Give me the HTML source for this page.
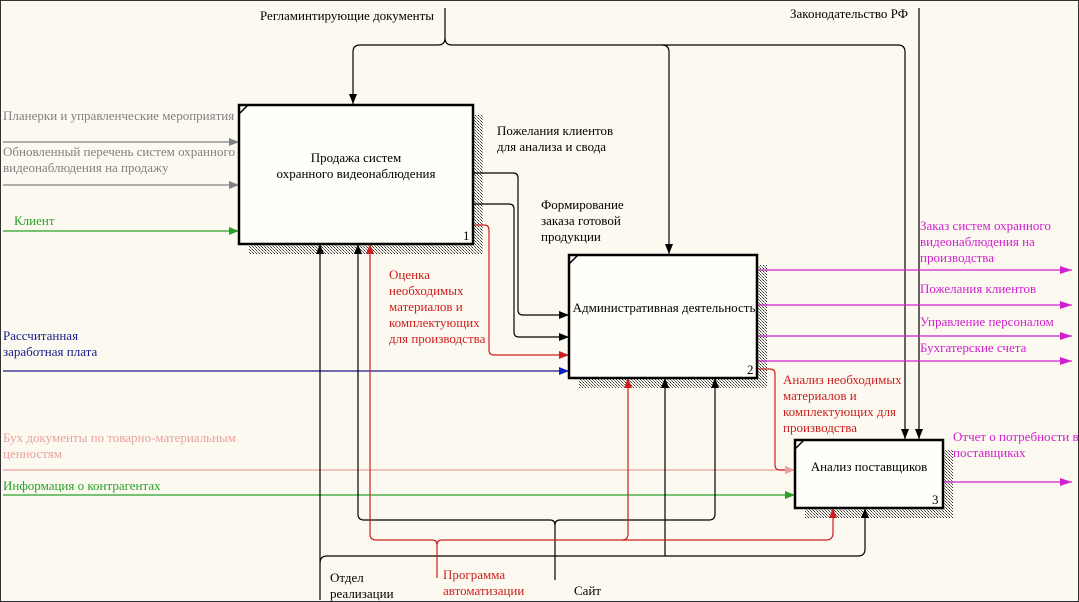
<!DOCTYPE html>
<html><head><meta charset="utf-8"><style>
html,body{margin:0;padding:0;background:#fcfaf0;}
svg{display:block;font-family:"Liberation Serif","DejaVu Serif",serif;font-size:13px;}
</style></head><body>
<svg width="1079" height="602" viewBox="0 0 1079 602" xmlns="http://www.w3.org/2000/svg">
<defs>
<pattern id="h" width="3" height="3" patternUnits="userSpaceOnUse">
<rect width="3" height="3" fill="#fcfaf0"/><rect width="1" height="1" fill="#555"/><rect x="2" y="2" width="1" height="1" fill="#888"/><rect x="1" y="1" width="1" height="1" fill="#333"/>
</pattern>
<marker id="ak" markerWidth="10" markerHeight="8" refX="10" refY="4" orient="auto" markerUnits="userSpaceOnUse"><path d="M0,0 L10,4 L0,8z" fill="#000"/></marker>
<marker id="ag" markerWidth="10" markerHeight="8" refX="10" refY="4" orient="auto" markerUnits="userSpaceOnUse"><path d="M0,0 L10,4 L0,8z" fill="#808080"/></marker>
<marker id="agr" markerWidth="10" markerHeight="8" refX="10" refY="4" orient="auto" markerUnits="userSpaceOnUse"><path d="M0,0 L10,4 L0,8z" fill="#2aa02a"/></marker>
<marker id="ab" markerWidth="10" markerHeight="8" refX="10" refY="4" orient="auto" markerUnits="userSpaceOnUse"><path d="M0,0 L10,4 L0,8z" fill="#0a1fbf"/></marker>
<marker id="ar" markerWidth="10" markerHeight="8" refX="10" refY="4" orient="auto" markerUnits="userSpaceOnUse"><path d="M0,0 L10,4 L0,8z" fill="#cc2020"/></marker>
<marker id="ap" markerWidth="10" markerHeight="8" refX="10" refY="4" orient="auto" markerUnits="userSpaceOnUse"><path d="M0,0 L10,4 L0,8z" fill="#e8a0a0"/></marker>
<marker id="am" markerWidth="12" markerHeight="8" refX="12" refY="4" orient="auto" markerUnits="userSpaceOnUse"><path d="M0,0 L12,4 L0,8z" fill="#d020d0"/></marker>
</defs>
<rect x="0.5" y="0.5" width="1078" height="601" fill="#fcfaf0" stroke="#333"/>

<rect x="249" y="115" width="234" height="139" fill="url(#h)"/>
<rect x="579" y="265" width="188" height="123" fill="url(#h)"/>
<rect x="805" y="450" width="148" height="68" fill="url(#h)"/>

<g fill="none" stroke-width="1.2">
<path d="M445,8 V38 Q445,45 452,45 H898 Q905,45 905,52 V439" stroke="#000" marker-end="url(#ak)"/>
<path d="M445,38 Q445,45 438,45 H360 Q353,45 353,52 V104" stroke="#000" marker-end="url(#ak)"/>
<path d="M662,45 Q669,45 669,52 V254" stroke="#000" marker-end="url(#ak)"/>
<path d="M919,8 V439" stroke="#000" marker-end="url(#ak)"/>
<path d="M3,142 H239" stroke="#808080" marker-end="url(#ag)"/>
<path d="M3,185 H239" stroke="#808080" marker-end="url(#ag)"/>
<path d="M3,231 H239" stroke="#2aa02a" marker-end="url(#agr)"/>
<path d="M3,371 H569" stroke="#1a1a8a" marker-end="url(#ab)"/>
<path d="M3,470 H795" stroke="#e8a0a0" marker-end="url(#ap)"/>
<path d="M3,495 H795" stroke="#2aa02a" marker-end="url(#agr)"/>
<path d="M473,173 H513 Q518,173 518,178 V310 Q518,315 523,315 H569" stroke="#000" marker-end="url(#ak)"/>
<path d="M473,204 H509 Q514,204 514,209 V332 Q514,337 519,337 H569" stroke="#000" marker-end="url(#ak)"/>
<path d="M473,225 H484 Q489,225 489,230 V350 Q489,355 494,355 H569" stroke="#cc2020" marker-end="url(#ar)"/>
<path d="M757,270 H1072" stroke="#d020d0" marker-end="url(#am)"/>
<path d="M757,305 H1072" stroke="#d020d0" marker-end="url(#am)"/>
<path d="M757,336 H1072" stroke="#d020d0" marker-end="url(#am)"/>
<path d="M757,361 H1072" stroke="#d020d0" marker-end="url(#am)"/>
<path d="M757,369 H770 Q775,369 775,374 V465 Q775,470 780,470 H795" stroke="#cc2020" marker-end="url(#ap)"/>
<path d="M943,482 H1072" stroke="#d020d0" marker-end="url(#am)"/>
<path d="M320,600 V244" stroke="#000" marker-end="url(#ak)"/>
<path d="M320,563 Q320,556 327,556 H858 Q865,556 865,549 V508" stroke="#000" marker-end="url(#ak)"/>
<path d="M665,556 V378" stroke="#000" marker-end="url(#ak)"/>
<path d="M555,580 V525 Q555,520 550,520 H364 Q358,520 358,514 V244" stroke="#000" marker-end="url(#ak)"/>
<path d="M555,525 Q555,520 560,520 H709 Q715,520 715,514 V378" stroke="#000" marker-end="url(#ak)"/>
<path d="M437,578 V545 Q437,540 432,540 H376 Q370,540 370,534 V244" stroke="#cc2020" marker-end="url(#ar)"/>
<path d="M437,545 Q437,540 442,540 H826 Q833,540 833,533 V508" stroke="#cc2020" marker-end="url(#ar)"/>
<path d="M622,540 Q628,540 628,534 V378" stroke="#cc2020" marker-end="url(#ar)"/>
</g>

<g fill="#fffef8" stroke="#000" stroke-width="2.5">
<rect x="239" y="105" width="234" height="139"/>
<rect x="569" y="255" width="188" height="123"/>
<rect x="795" y="440" width="148" height="68"/>
</g>
<g stroke="#000" stroke-width="1.5">
<line x1="239" y1="114" x2="248" y2="105"/>
<line x1="569" y1="264" x2="578" y2="255"/>
<line x1="795" y1="449" x2="804" y2="440"/>
</g>
<g fill="#000">
<text x="356" y="162" text-anchor="middle">Продажа систем</text>
<text x="356" y="178" text-anchor="middle">охранного видеонаблюдения</text>
<text x="463" y="240">1</text>
<text x="664" y="312" text-anchor="middle">Административная деятельность</text>
<text x="747" y="374">2</text>
<text x="869" y="471" text-anchor="middle">Анализ поставщиков</text>
<text x="932" y="504">3</text>

<text x="260" y="20">Регламинтирующие документы</text>
<text x="790" y="18">Законодательство РФ</text>
<text x="497" y="135">Пожелания клиентов</text>
<text x="497" y="151">для анализа и свода</text>
<text x="541" y="209">Формирование</text>
<text x="541" y="225">заказа готовой</text>
<text x="541" y="241">продукции</text>
<text x="330" y="582">Отдел</text>
<text x="330" y="598">реализации</text>
<text x="574" y="595">Сайт</text>
</g>
<g fill="#808080">
<text x="3" y="120">Планерки и управленческие мероприятия</text>
<text x="3" y="156">Обновленный перечень систем охранного</text>
<text x="3" y="172">видеонаблюдения на продажу</text>
</g>
<g fill="#2aa02a">
<text x="14" y="225">Клиент</text>
<text x="3" y="490">Информация о контрагентах</text>
</g>
<g fill="#1a1a8a">
<text x="3" y="340">Рассчитанная</text>
<text x="3" y="356">заработная плата</text>
</g>
<g fill="#e8a0a0">
<text x="3" y="442">Бух документы по товарно-материальным</text>
<text x="3" y="458">ценностям</text>
</g>
<g fill="#cc2020">
<text x="389" y="279">Оценка</text>
<text x="389" y="295">необходимых</text>
<text x="389" y="311">материалов и</text>
<text x="389" y="327">комплектующих</text>
<text x="389" y="343">для производства</text>
<text x="783" y="384">Анализ необходимых</text>
<text x="783" y="400">материалов и</text>
<text x="783" y="416">комплектующих для</text>
<text x="783" y="432">производства</text>
<text x="443" y="579">Программа</text>
<text x="443" y="595">автоматизации</text>
</g>
<g fill="#d020d0">
<text x="920" y="230">Заказ систем охранного</text>
<text x="920" y="246">видеонаблюдения на</text>
<text x="920" y="262">производства</text>
<text x="920" y="293">Пожелания клиентов</text>
<text x="920" y="326">Управление персоналом</text>
<text x="920" y="352">Бухгатерские счета</text>
<text x="953" y="441">Отчет о потребности в</text>
<text x="953" y="457">поставщиках</text>
</g>
</svg>
</body></html>
